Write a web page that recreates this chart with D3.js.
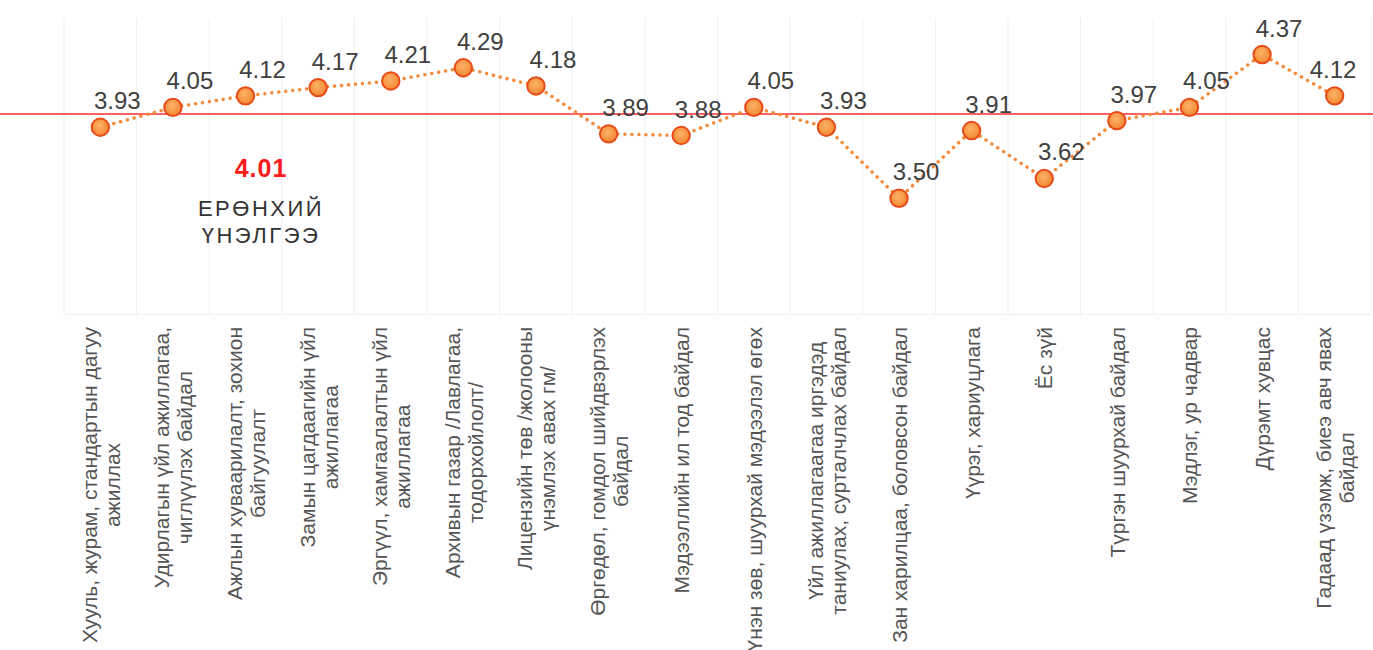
<!DOCTYPE html>
<html>
<head>
<meta charset="utf-8">
<script src="https://cdn.jsdelivr.net/npm/d3@7"></script>
<style>
  body { margin: 0; background: #fff; }
  svg { display: block; font-family: "Liberation Sans", Arial, sans-serif; }
</style>
</head>
<body>
<svg id="chart" width="1373" height="650"></svg>
<script>
// Service quality criteria (line breaks mark the wrapped label lines)
const categories = [
  "Хууль, журам, стандартын дагуу\nажиллах",
  "Удирлагын үйл ажиллагаа,\nчиглүүлэх байдал",
  "Ажлын хуваарилалт, зохион\nбайгуулалт",
  "Замын цагдаагийн үйл\nажиллагаа",
  "Эргүүл, хамгаалалтын үйл\nажиллагаа",
  "Архивын газар /Лавлагаа,\nтодорхойлолт/",
  "Лицензийн төв /жолооны\nүнэмлэх авах гм/",
  "Өргөдөл, гомдол шийдвэрлэх\nбайдал",
  "Мэдээллийн ил тод байдал",
  "Үнэн зөв, шуурхай мэдээлэл өгөх",
  "Үйл ажиллагаагаа иргэдэд\nтаниулах, сурталчлах байдал",
  "Зан харилцаа, боловсон байдал",
  "Үүрэг, хариуцлага",
  "Ёс зүй",
  "Түргэн шуурхай байдал",
  "Мэдлэг, ур чадвар",
  "Дүрэмт хувцас",
  "Гадаад үзэмж, биеэ авч явах\nбайдал"
];

// Average score per criterion
const scores = [3.93, 4.05, 4.12, 4.17, 4.21, 4.29, 4.18, 3.89, 3.88, 4.05, 3.93, 3.50, 3.91, 3.62, 3.97, 4.05, 4.37, 4.12];

// Overall score and its caption
const overallScore = 4.01;
const overallCaption = ["ЕРӨНХИЙ", "ҮНЭЛГЭЭ"];

const yDomain = [2.8, 4.7];

const W = 1373, H = 650;
const plot = { left: 64, right: 1371, top: 0, bottom: 314 };

const svg = d3.select("#chart");

const x = d3.scaleBand()
  .domain(d3.range(categories.length))
  .range([plot.left, plot.right]);
const y = d3.scaleLinear().domain(yDomain).range([plot.bottom, plot.top]);
const cx = i => x(i) + x.bandwidth() / 2;

// Gradient for the markers
const defs = svg.append("defs");
const grad = defs.append("radialGradient").attr("id", "markerFill")
  .attr("cx", "45%").attr("cy", "40%").attr("r", "60%");
grad.append("stop").attr("offset", "0%").attr("stop-color", "#FBB26A");
grad.append("stop").attr("offset", "100%").attr("stop-color", "#F5872F");

// Vertical category separators
const bounds = d3.range(categories.length).map(i => x(i)).concat([plot.right]);
svg.append("g")
  .selectAll("line")
  .data(bounds)
  .join("line")
  .attr("x1", d => d).attr("x2", d => d)
  .attr("y1", 18).attr("y2", plot.bottom)
  .attr("stroke", "#efefef").attr("stroke-width", 1);

// Category axis
const xAxis = svg.append("g")
  .attr("transform", `translate(0,${plot.bottom})`)
  .call(d3.axisBottom(x).tickSize(0).tickFormat(""));
xAxis.select(".domain").attr("stroke", "#efefef");

// Overall score reference line
svg.append("line")
  .attr("x1", 0).attr("x2", W)
  .attr("y1", y(overallScore)).attr("y2", y(overallScore))
  .attr("stroke", "#FF2F2F").attr("stroke-width", 1.5);

// Dotted series line
const line = d3.line().x((d, i) => cx(i)).y(d => y(d));
svg.append("path")
  .datum(scores)
  .attr("d", line)
  .attr("fill", "none")
  .attr("stroke", "#F28A3A")
  .attr("stroke-width", 3.5)
  .attr("stroke-linecap", "round")
  .attr("stroke-dasharray", "0.01 7");

// Markers
svg.append("g")
  .selectAll("circle")
  .data(scores)
  .join("circle")
  .attr("cx", (d, i) => cx(i))
  .attr("cy", d => y(d))
  .attr("r", 8.7)
  .attr("fill", "url(#markerFill)")
  .attr("stroke", "#E84B1A")
  .attr("stroke-width", 2);

// Value labels, nudged right but kept inside the chart
svg.append("g")
  .selectAll("text")
  .data(scores)
  .join("text")
  .attr("x", (d, i) => Math.min(cx(i) + 17, W - 40))
  .attr("y", d => y(d) - 18)
  .attr("text-anchor", "middle")
  .attr("font-size", 24)
  .attr("fill", "#404040")
  .text(d => d.toFixed(2));

// Rotated category labels, wrapped lines centred on each other
const labelSize = 21, lineGap = 23, labelTop = 327;
const labels = svg.append("g").attr("fill", "#555");
categories.forEach((cat, i) => {
  const lines = cat.split("\n");
  const g = labels.append("g")
    .attr("transform", `translate(${cx(i) + 1},${labelTop}) rotate(-90)`);
  const texts = lines.map((t, j) => g.append("text")
    .attr("font-size", labelSize)
    .attr("text-anchor", "middle")
    .attr("y", (j - (lines.length - 1) / 2) * lineGap + 7)
    .text(t));
  const longest = d3.max(texts, t => t.node().getComputedTextLength());
  texts.forEach(t => t.attr("x", -longest / 2));
});

// Overall score annotation
const note = svg.append("g").attr("text-anchor", "middle");
note.append("text")
  .attr("x", 261).attr("y", 177)
  .attr("font-size", 25).attr("font-weight", "bold")
  .attr("letter-spacing", 1)
  .attr("fill", "#FF1A1A")
  .text(overallScore.toFixed(2));
overallCaption.forEach((t, j) => {
  note.append("text")
    .attr("x", 261).attr("y", 216 + j * 27)
    .attr("font-size", 22)
    .attr("letter-spacing", 2.5)
    .attr("fill", "#333")
    .text(t);
});
</script>
</body>
</html>
